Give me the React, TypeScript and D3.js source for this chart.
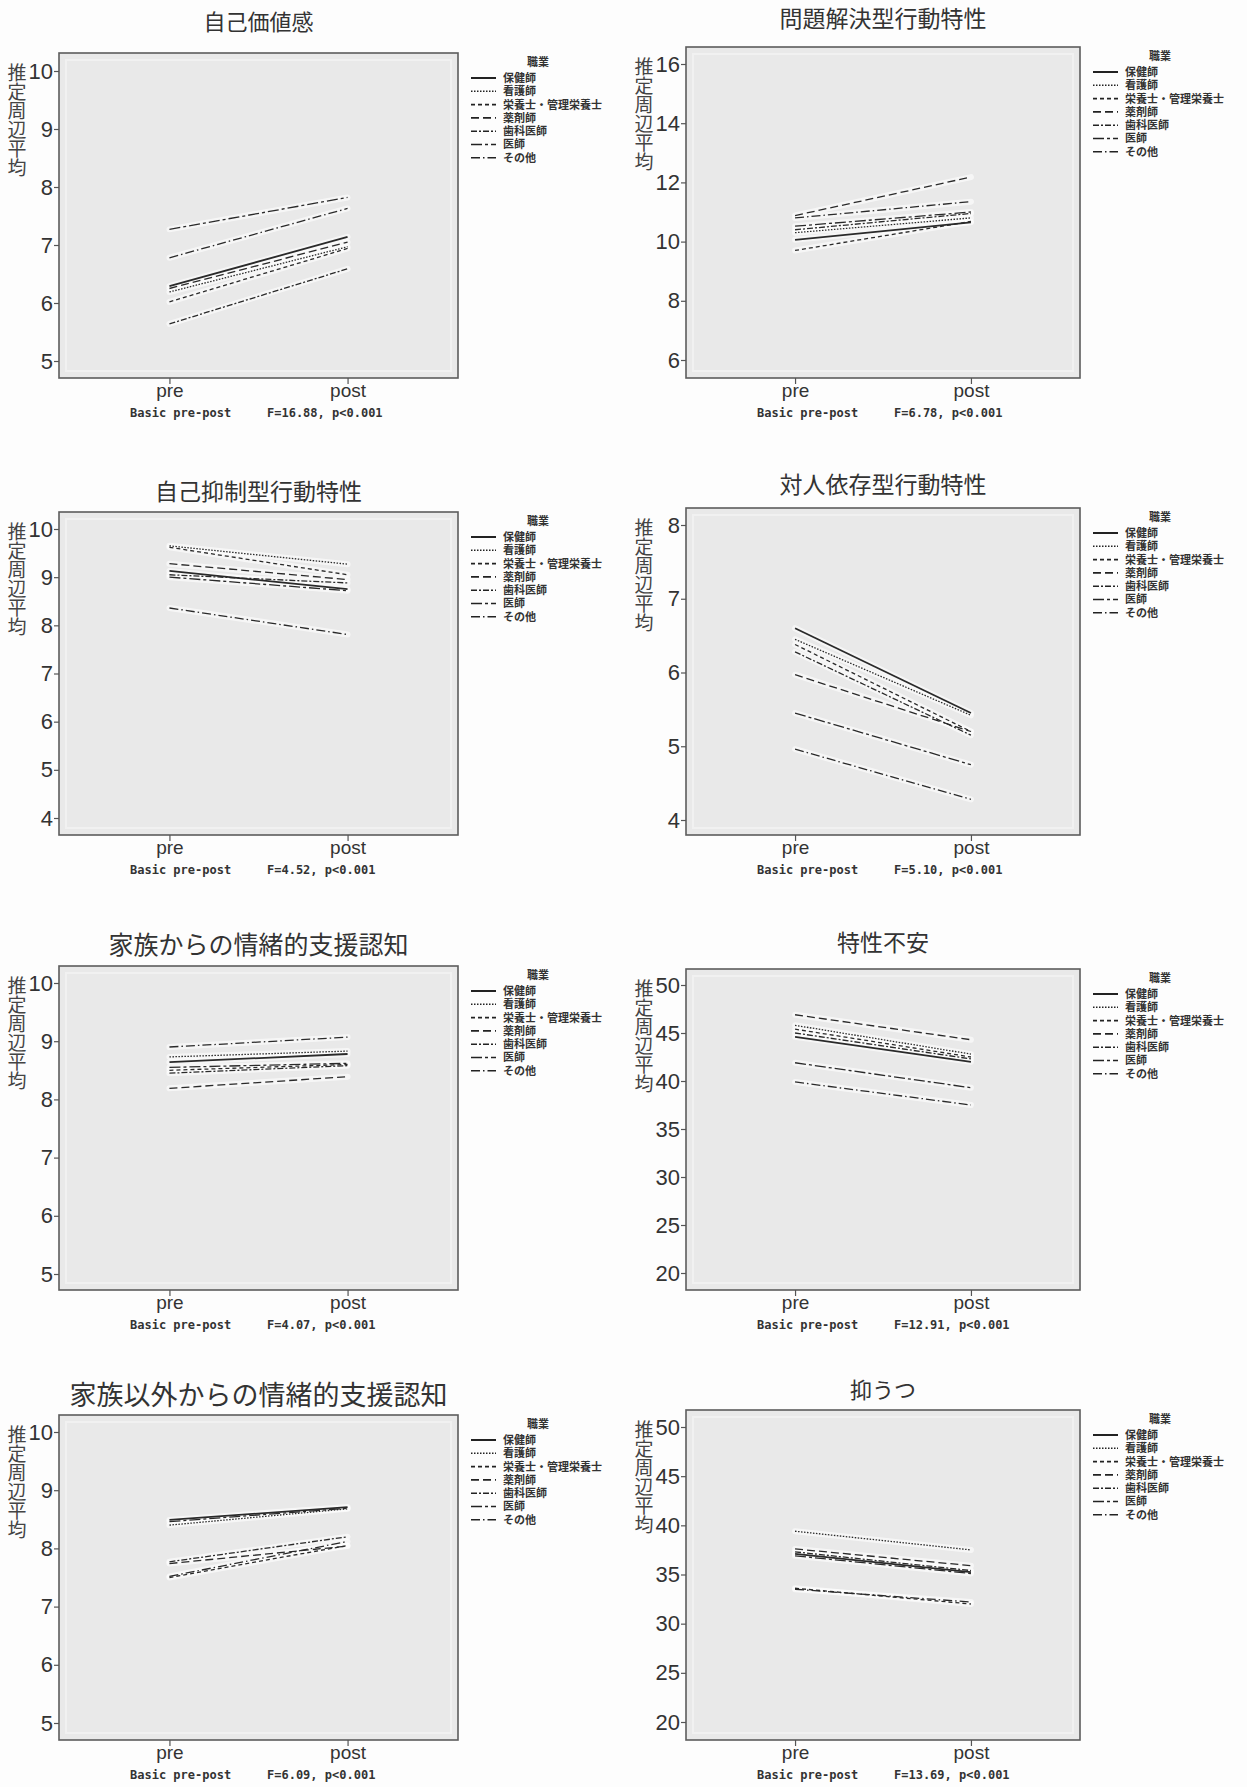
import { useEffect, useRef } from "react";
import * as d3 from "d3";

// legend categories (職業) and the two time points
const occupations = ["保健師", "看護師", "栄養士・管理栄養士", "薬剤師", "歯科医師", "医師", "その他"];
const timePoints = ["pre", "post"];

const panelTitles = [
  "自己価値感",
  "問題解決型行動特性",
  "自己抑制型行動特性",
  "対人依存型行動特性",
  "家族からの情緒的支援認知",
  "特性不安",
  "家族以外からの情緒的支援認知",
  "抑うつ",
];

const fStats = [
  "F=16.88, p<0.001",
  "F=6.78, p<0.001",
  "F=4.52, p<0.001",
  "F=5.10, p<0.001",
  "F=4.07, p<0.001",
  "F=12.91, p<0.001",
  "F=6.09, p<0.001",
  "F=13.69, p<0.001",
];

const yTickValues = [
  [5, 6, 7, 8, 9, 10],
  [6, 8, 10, 12, 14, 16],
  [4, 5, 6, 7, 8, 9, 10],
  [4, 5, 6, 7, 8],
  [5, 6, 7, 8, 9, 10],
  [20, 25, 30, 35, 40, 45, 50],
  [5, 6, 7, 8, 9, 10],
  [20, 25, 30, 35, 40, 45, 50],
];

// estimated marginal means, one value per occupation (same order as occupations)
const selfWorthPre = [6.29, 6.19, 6.02, 6.25, 5.64, 7.27, 6.78];
const selfWorthPost = [7.14, 6.97, 6.94, 7.05, 6.59, 7.82, 7.63];

const problemSolvingPre = [10.06, 10.3, 9.7, 10.88, 10.4, 10.52, 10.8];
const problemSolvingPost = [10.65, 10.8, 10.68, 12.18, 10.95, 11.0, 11.35];

const selfRestraintPre = [9.13, 9.65, 9.62, 9.28, 9.05, 9.0, 8.36];
const selfRestraintPost = [8.75, 9.27, 9.05, 8.95, 8.88, 8.72, 7.81];

const dependencePre = [6.6, 6.45, 6.38, 5.97, 6.28, 5.45, 4.96];
const dependencePost = [5.45, 5.42, 5.2, 5.2, 5.15, 4.75, 4.28];

const familySupportPre = [8.64, 8.73, 8.5, 8.19, 8.45, 8.55, 8.9];
const familySupportPost = [8.78, 8.83, 8.6, 8.39, 8.58, 8.62, 9.07];

const traitAnxietyPre = [44.6, 45.8, 45.4, 46.9, 45.0, 41.9, 39.9];
const traitAnxietyPost = [42.0, 42.8, 42.5, 44.3, 42.3, 39.3, 37.5];

const otherSupportPre = [8.49, 8.4, 7.5, 7.74, 7.77, 8.46, 7.52];
const otherSupportPost = [8.71, 8.68, 8.05, 8.04, 8.2, 8.69, 8.12];

const depressionPre = [37.1, 39.4, 33.6, 37.6, 37.3, 36.9, 33.5];
const depressionPost = [35.25, 37.5, 32.0, 35.9, 35.4, 35.1, 32.2];

const preValues = [selfWorthPre, problemSolvingPre, selfRestraintPre, dependencePre, familySupportPre, traitAnxietyPre, otherSupportPre, depressionPre];
const postValues = [selfWorthPost, problemSolvingPost, selfRestraintPost, dependencePost, familySupportPost, traitAnxietyPost, otherSupportPost, depressionPost];

// line styles per occupation
const dashes = ["", "1.5,1.5", "4,3", "8,4", "6,2,2,2", "11,3,3,3", "9,3,1.5,3"];

// panel placement (SPSS charts pasted slightly offset)
const layout = [
  { col: 0, frameTop: 53, frameBottom: 378, titleY: 22, titleSize: 22, tickTopY: 71, tickBottomY: 361 },
  { col: 1, frameTop: 47, frameBottom: 378, titleY: 19, titleSize: 23, tickTopY: 64, tickBottomY: 360 },
  { col: 0, frameTop: 512, frameBottom: 835, titleY: 492, titleSize: 23, tickTopY: 529, tickBottomY: 818 },
  { col: 1, frameTop: 508, frameBottom: 835, titleY: 485, titleSize: 23, tickTopY: 525, tickBottomY: 820 },
  { col: 0, frameTop: 966, frameBottom: 1290, titleY: 945, titleSize: 25, tickTopY: 983, tickBottomY: 1274 },
  { col: 1, frameTop: 969, frameBottom: 1290, titleY: 943, titleSize: 23, tickTopY: 985, tickBottomY: 1273 },
  { col: 0, frameTop: 1415, frameBottom: 1740, titleY: 1395, titleSize: 27, tickTopY: 1432, tickBottomY: 1723 },
  { col: 1, frameTop: 1410, frameBottom: 1740, titleY: 1390, titleSize: 22, tickTopY: 1427, tickBottomY: 1722 },
];

const W = 1247;
const H = 1787;
const colLeft = [59, 686];
const colRight = [458, 1080];
const cjk = "'Noto Sans CJK JP', 'Noto Sans', sans-serif";
const latin = "'Liberation Sans', Arial, sans-serif";
const mono = "'DejaVu Sans Mono', monospace";

export default function App() {
  const svgRef = useRef<SVGSVGElement>(null);

  useEffect(() => {
    const svg = d3.select(svgRef.current).attr("width", W).attr("height", H);
    svg.selectAll("*").remove(); // clear previous render

    svg.append("rect").attr("width", W).attr("height", H).attr("fill", "#fdfdfd");

    layout.forEach((L, i) => {
      const left = colLeft[L.col];
      const right = colRight[L.col];
      const g = svg.append("g");

      const x = d3.scalePoint<string>().domain(timePoints).range([left, right]).padding(0.62);
      const ticks = yTickValues[i];
      const y = d3
        .scaleLinear()
        .domain([ticks[0], ticks[ticks.length - 1]])
        .range([L.tickBottomY, L.tickTopY]);

      // title
      g.append("text")
        .attr("x", (left + right) / 2)
        .attr("y", L.titleY)
        .attr("dy", "0.36em")
        .attr("text-anchor", "middle")
        .attr("font-family", cjk)
        .attr("font-size", L.titleSize)
        .attr("fill", "#333")
        .text(panelTitles[i]);

      // plot frame
      g.append("rect")
        .attr("x", left)
        .attr("y", L.frameTop)
        .attr("width", right - left)
        .attr("height", L.frameBottom - L.frameTop)
        .attr("fill", "#e9e9e9")
        .attr("stroke", "#5c5c5c")
        .attr("stroke-width", 1.6);
      g.append("rect")
        .attr("x", left + 7)
        .attr("y", L.frameTop + 7)
        .attr("width", right - left - 14)
        .attr("height", L.frameBottom - L.frameTop - 14)
        .attr("fill", "none")
        .attr("stroke", "#f1f1f1")
        .attr("stroke-width", 2);

      // y axis
      const ya = g
        .append("g")
        .attr("transform", `translate(${left},0)`)
        .call(d3.axisLeft(y).tickValues(ticks).tickSize(5).tickPadding(1).tickFormat(d3.format("d")));
      ya.select(".domain").remove();
      ya.selectAll("line").attr("stroke", "#555").attr("stroke-width", 1.2);
      ya.attr("font-family", latin).attr("font-size", 22);
      ya.selectAll("text").attr("fill", "#333");

      // x axis
      const xa = g
        .append("g")
        .attr("transform", `translate(0,${L.frameBottom})`)
        .call(d3.axisBottom(x).tickSize(6).tickPadding(0));
      xa.select(".domain").remove();
      xa.selectAll("line").attr("stroke", "#555").attr("stroke-width", 1.2);
      xa.attr("font-family", latin).attr("font-size", 19);
      xa.selectAll("text").attr("fill", "#333");

      // vertical y label
      g.append("text")
        .attr("x", left - 42)
        .attr("y", L.frameTop + 10)
        .attr("style", "writing-mode: vertical-rl; text-orientation: upright;")
        .attr("font-family", cjk)
        .attr("font-size", 19)
        .attr("fill", "#444")
        .text("推定周辺平均");

      // lines
      const series = occupations.map((name, k) => ({
        name,
        k,
        pts: [
          { t: "pre", v: preValues[i][k] },
          { t: "post", v: postValues[i][k] },
        ],
      }));
      const line = d3
        .line<{ t: string; v: number }>()
        .x((d) => x(d.t) as number)
        .y((d) => y(d.v));

      g.selectAll(".halo")
        .data(series)
        .enter()
        .append("path")
        .attr("d", (d) => line(d.pts))
        .attr("fill", "none")
        .attr("stroke", "#fff")
        .attr("stroke-opacity", 0.6)
        .attr("stroke-width", 6)
        .attr("stroke-linecap", "round");

      g.selectAll(".series")
        .data(series)
        .enter()
        .append("path")
        .attr("d", (d) => line(d.pts))
        .attr("fill", "none")
        .attr("stroke", "#2a2a2a")
        .attr("stroke-width", (d) => (d.k === 0 ? 1.8 : 1.3))
        .attr("stroke-dasharray", (d) => dashes[d.k]);

      // legend
      const lx = right + 13;
      const lg = g.append("g");
      lg.append("text")
        .attr("x", right + 80)
        .attr("y", L.frameTop + 9)
        .attr("dy", "0.36em")
        .attr("text-anchor", "middle")
        .attr("font-family", cjk)
        .attr("font-weight", "bold")
        .attr("font-size", 11)
        .attr("fill", "#333")
        .text("職業");
      const items = lg
        .selectAll(".item")
        .data(occupations)
        .enter()
        .append("g")
        .attr("transform", (_d, k) => `translate(0,${L.frameTop + 25 + k * 13.3})`);
      items
        .append("line")
        .attr("x1", lx)
        .attr("x2", lx + 25)
        .attr("stroke", "#222")
        .attr("stroke-width", (_d, k) => (k === 0 ? 2 : 1.6))
        .attr("stroke-dasharray", (_d, k) => dashes[k]);
      items
        .append("text")
        .attr("x", lx + 32)
        .attr("dy", "0.36em")
        .attr("font-family", cjk)
        .attr("font-weight", "bold")
        .attr("font-size", 11)
        .attr("fill", "#333")
        .text((d) => d);

      // footer
      g.append("text")
        .attr("x", left + 71)
        .attr("y", L.frameBottom + 39)
        .attr("font-family", mono)
        .attr("font-weight", "bold")
        .attr("font-size", 12)
        .attr("fill", "#333")
        .text("Basic pre-post");
      g.append("text")
        .attr("x", left + 208)
        .attr("y", L.frameBottom + 39)
        .attr("font-family", mono)
        .attr("font-weight", "bold")
        .attr("font-size", 12)
        .attr("fill", "#333")
        .text(fStats[i]);
    });
  }, []);

  return (
    <div style={{ position: "absolute", left: 0, top: 0 }}>
      <svg ref={svgRef} style={{ display: "block" }}></svg>
    </div>
  );
}
